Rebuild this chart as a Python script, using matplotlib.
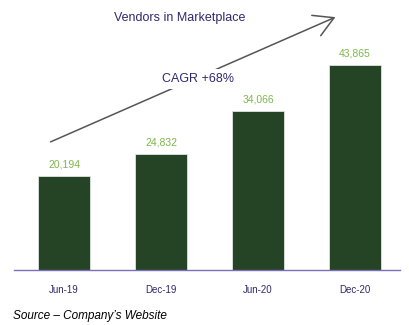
import matplotlib
matplotlib.use("Agg")
import matplotlib.pyplot as plt

# data
periodos = ["Jun-19", "Dec-19", "Jun-20", "Dec-20"]
vendedores = [20194, 24832, 34066, 43865]

cor_barra = "#254325"
cor_rotulo = "#7cb84a"
cor_texto = "#2e2a6e"
cor_eixo = "#7b6fb8"

plt.rcParams["font.family"] = ["Liberation Sans", "DejaVu Sans"]

fig = plt.figure(figsize=(4.10, 3.25), dpi=100)
ax = fig.add_axes([14 / 410, 55 / 325, 386 / 410, 270 / 325])

x = range(len(periodos))
barras = ax.bar(x, vendedores, width=0.536, color=cor_barra, edgecolor="#dfe5df", linewidth=0.6)

# rotulos de valor acima das barras
for xi, v in zip(x, vendedores):
    ax.annotate(f"{v:,}", (xi, v), xytext=(0, 4.5), textcoords="offset points",
                ha="center", va="bottom", fontsize=7.5, color=cor_rotulo)

ax.set_xlim(-0.515, 3.464)
ax.set_ylim(0, 57800)
ax.set_xticks(list(x))
ax.set_xticklabels(periodos, fontsize=7, color=cor_texto)
ax.tick_params(axis="x", length=0, pad=11)
ax.set_yticks([])
for lado in ["top", "right", "left"]:
    ax.spines[lado].set_visible(False)
ax.spines["bottom"].set_color(cor_eixo)
ax.spines["bottom"].set_linewidth(1.0)

# titulo
fig.text(180 / 410, 1 - 18 / 325, "Vendors in Marketplace", ha="center", va="center",
         fontsize=9, color=cor_texto)

# seta do CAGR
fig.patches.append(matplotlib.patches.FancyArrowPatch(
    (48 / 410, 1 - 143 / 325), (338 / 410, 1 - 16 / 325),
    transform=fig.transFigure, arrowstyle="->,head_length=14,head_width=8",
    color="#555555", linewidth=1.1, mutation_scale=1))
fig.text(198 / 410, 1 - 79 / 325, "CAGR +68%", ha="center", va="center",
         fontsize=9, color=cor_texto,
         bbox=dict(facecolor="white", edgecolor="none", pad=3))

# fonte
fig.text(13 / 410, 1 - 316 / 325, "Source \u2013 Company\u2019s Website", ha="left", va="center",
         fontsize=8.5, style="italic", color="black")

fig.savefig("out.png", dpi=100)
